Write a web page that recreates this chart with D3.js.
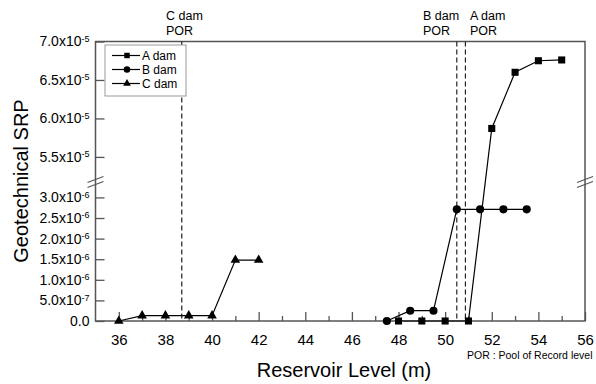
<script src="https://d3js.org/d3.v7.min.js"></script>
<style>
  body { margin: 0; background: #fff; }
  text { font-family: "Liberation Sans", Arial, sans-serif; fill: #000; }
</style>
<div id="canvas"></div>
<script>
    const width = 596;
    const height = 384;

    // data
    const aLevel = [48, 49, 50, 51, 52, 53, 54, 55];
    const aSrp = [0, 0, 0, 0, 5.87e-5, 6.60e-5, 6.75e-5, 6.76e-5];
    const bLevel = [47.5, 48.5, 49.5, 50.5, 51.5, 52.5, 53.5];
    const bSrp = [0, 0.25e-6, 0.25e-6, 2.71e-6, 2.71e-6, 2.71e-6, 2.71e-6];
    const cLevel = [36, 37, 38, 39, 40, 41, 42];
    const cSrp = [0, 0.13e-6, 0.13e-6, 0.13e-6, 0.13e-6, 1.48e-6, 1.48e-6];
    const porLines = [
        {name: "C dam", level: 38.7},
        {name: "B dam", level: 50.5},
        {name: "A dam", level: 50.87}
    ];
    const lowTicks = [0, 5e-7, 1e-6, 1.5e-6, 2e-6, 2.5e-6, 3e-6];
    const lowLabels = ["0.0", "5.0x10|-7", "1.0x10|-6", "1.5x10|-6", "2.0x10|-6", "2.5x10|-6", "3.0x10|-6"];
    const highTicks = [5.5e-5, 6e-5, 6.5e-5, 7e-5];
    const highLabels = ["5.5x10|-5", "6.0x10|-5", "6.5x10|-5", "7.0x10|-5"];
    const xMajor = d3.range(36, 57, 2);
    const xMinor = d3.range(37, 56, 2);

    const plotL = 95.5, plotR = 585, plotT = 41.5, plotB = 321;

    const svg = d3.select("#canvas")
        .append("svg")
        .attr("width", width)
        .attr("height", height);

    const x = d3.scaleLinear().domain([35, 56]).range([plotL, plotR]);
    const yLo = d3.scaleLinear().domain([0, 3.35e-6]).range([plotB, 183]);
    const yHi = d3.scaleLinear().domain([5.2e-5, 7.0e-5]).range([180, plotT]);
    const y = v => v > 1e-5 ? yHi(v) : yLo(v);

    const axisColor = "#555";

    // frame
    svg.append("rect")
        .attr("x", plotL).attr("y", plotT)
        .attr("width", plotR - plotL).attr("height", plotB - plotT)
        .attr("fill", "none").attr("stroke", axisColor).attr("stroke-width", 1.5);

    // x axis
    const gx = svg.append("g").attr("transform", `translate(0,${plotB})`)
        .call(d3.axisBottom(x).tickValues(xMajor).tickSize(-9).tickPadding(13));
    gx.append("g").call(d3.axisBottom(x).tickValues(xMinor).tickSize(-5).tickFormat(""));
    gx.selectAll(".domain").remove();
    gx.selectAll("line").attr("stroke", axisColor).attr("stroke-width", 1.3);
    gx.selectAll("text").style("font-size", "15px").attr("fill", "#000")
        .style("font-family", "Liberation Sans, Arial, sans-serif");

    // y axes (two segments)
    function yAxis(scale, ticks, labels) {
        const g = svg.append("g").attr("transform", `translate(${plotL},0)`)
            .call(d3.axisLeft(scale).tickValues(ticks).tickSize(-9).tickPadding(6));
        g.select(".domain").remove();
        g.selectAll("line").attr("stroke", axisColor).attr("stroke-width", 1.3);
        g.selectAll("text").each(function (d, i) {
            const parts = labels[i].split("|");
            const t = d3.select(this).text(null)
                .style("font-size", "14px").attr("fill", "#000")
                .style("font-family", "Liberation Sans, Arial, sans-serif");
            t.append("tspan").text(parts[0]);
            if (parts[1]) {
                t.append("tspan").attr("dy", "-0.5em").style("font-size", "9px").text(parts[1]);
            }
        });
    }
    yAxis(yLo, lowTicks, lowLabels);
    yAxis(yHi, highTicks, highLabels);

    // axis break marks
    [plotL, plotR].forEach(bx => {
        [-2.5, 2.5].forEach(off => {
            svg.append("line")
                .attr("x1", bx - 8).attr("y1", 182 + off + 3)
                .attr("x2", bx + 8).attr("y2", 182 + off - 3)
                .attr("stroke", axisColor).attr("stroke-width", 1.2);
        });
    });

    // POR dashed lines
    svg.selectAll("line.por")
        .data(porLines)
        .enter()
        .append("line")
        .attr("class", "por")
        .attr("x1", d => x(d.level)).attr("x2", d => x(d.level))
        .attr("y1", plotT).attr("y2", plotB)
        .attr("stroke", "#222").attr("stroke-width", 1.2)
        .attr("stroke-dasharray", "5,3");

    // POR labels above plot
    const porLabelX = {"C dam": 166, "B dam": 423, "A dam": 470};
    porLines.forEach(d => {
        const t = svg.append("text").attr("x", porLabelX[d.name]).attr("y", 20)
            .style("font-size", "12.5px");
        t.append("tspan").text(d.name);
        t.append("tspan").attr("x", porLabelX[d.name]).attr("dy", 14.5).text("POR");
    });

    // series
    const series = [
        {name: "A dam", level: aLevel, srp: aSrp, shape: d3.symbolSquare, size: 50, lsize: 30},
        {name: "B dam", level: bLevel, srp: bSrp, shape: d3.symbolCircle, size: 52, lsize: 34},
        {name: "C dam", level: cLevel, srp: cSrp, shape: d3.symbolTriangle, size: 40, lsize: 26}
    ];

    const line = d3.line().x(d => x(d[0])).y(d => y(d[1]));

    series.forEach(s => {
        const pts = s.level.map((l, i) => [l, s.srp[i]]);
        svg.append("path")
            .attr("d", line(pts))
            .attr("fill", "none").attr("stroke", "#000").attr("stroke-width", 1.2);
        svg.selectAll(null)
            .data(pts)
            .enter()
            .append("path")
            .attr("d", d3.symbol().type(s.shape).size(s.size))
            .attr("transform", d => `translate(${x(d[0])},${y(d[1])})`)
            .attr("fill", "#000");
    });

    // legend
    const lg = svg.append("g");
    lg.append("rect")
        .attr("x", 105).attr("y", 45).attr("width", 81).attr("height", 51)
        .attr("fill", "#fff").attr("stroke", "#999").attr("stroke-width", 1);
    series.forEach((s, i) => {
        const cy = 55.5 + i * 14;
        lg.append("line").attr("x1", 112).attr("x2", 140).attr("y1", cy).attr("y2", cy)
            .attr("stroke", "#000").attr("stroke-width", 1.2);
        lg.append("path").attr("d", d3.symbol().type(s.shape).size(s.lsize))
            .attr("transform", `translate(127,${cy})`).attr("fill", "#000");
        lg.append("text").attr("x", 142).attr("y", cy + 4.5)
            .style("font-size", "12px").text(s.name);
    });

    // axis titles
    svg.append("text")
        .attr("x", 344).attr("y", 377)
        .attr("text-anchor", "middle")
        .style("font-size", "20px")
        .text("Reservoir Level (m)");

    svg.append("text")
        .attr("transform", "translate(28,181) rotate(-90)")
        .attr("text-anchor", "middle")
        .style("font-size", "20px")
        .text("Geotechnical SRP");

    svg.append("text")
        .attr("x", 467).attr("y", 359)
        .style("font-size", "10.5px")
        .text("POR : Pool of Record level");
</script>
